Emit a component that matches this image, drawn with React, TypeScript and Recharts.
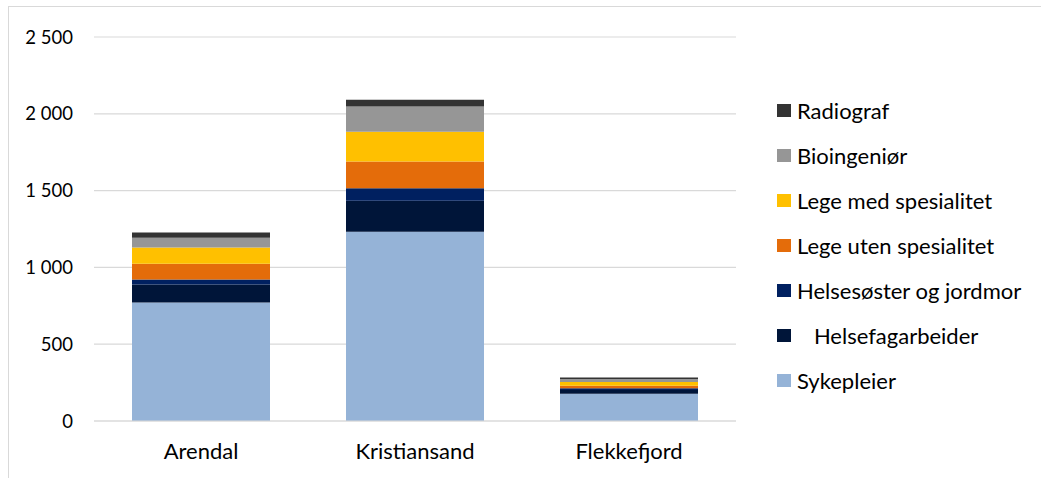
import { BarChart, Bar, XAxis, YAxis, CartesianGrid, Legend } from 'recharts';

const steder = ['Arendal', 'Kristiansand', 'Flekkefjord'];

// antall per yrkesgruppe, lest av figuren
const sykepleier = [771, 1232, 177];
const helsefagarbeider = [117, 202, 25];
const helsesoster = [33, 81, 12];
const legeUten = [102, 174, 15];
const legeMed = [107, 194, 25];
const bioingenior = [63, 165, 20];
const radiograf = [35, 44, 10];

const yTicks = [0, 500, 1000, 1500, 2000, 2500];

const series = [
  { key: 'syk', name: 'Sykepleier', values: sykepleier, color: '#95b3d7' },
  { key: 'hfa', name: '   Helsefagarbeider', values: helsefagarbeider, color: '#001539' },
  { key: 'hsj', name: 'Helsesøster og jordmor', values: helsesoster, color: '#002060' },
  { key: 'lus', name: 'Lege uten spesialitet', values: legeUten, color: '#e46c0a' },
  { key: 'lms', name: 'Lege med spesialitet', values: legeMed, color: '#ffc000' },
  { key: 'bio', name: 'Bioingeniør', values: bioingenior, color: '#969696' },
  { key: 'rad', name: 'Radiograf', values: radiograf, color: '#333333' },
];

const data = steder.map((s, i) => {
  const row: Record<string, string | number> = { sted: s };
  series.forEach((se) => {
    row[se.key] = se.values[i];
  });
  return row;
});

const font = 'Lato, "Open Sans", sans-serif';

const fmt = (v: number) => (v >= 1000 ? `${Math.floor(v / 1000)} ${String(v % 1000).padStart(3, '0')}` : String(v));

function LegendBox() {
  return (
    <div style={{ fontFamily: font, fontSize: 22, color: '#000' }}>
      {[...series].reverse().map((s) => (
        <div key={s.key} style={{ display: 'flex', alignItems: 'center', height: 45 }}>
          <span style={{ width: 14, height: 13, background: s.color, marginRight: 6, flex: 'none' }} />
          <span style={{ whiteSpace: 'pre' }}>{s.name}</span>
        </div>
      ))}
    </div>
  );
}

export default function App() {
  return (
    <div style={{ position: 'absolute', left: 0, top: 0, width: 1041, height: 478, background: '#fff' }}>
      <div
        style={{
          position: 'absolute',
          left: 8,
          top: 6,
          width: 1100,
          height: 500,
          borderLeft: '1px solid #d9d9d9',
          borderTop: '1px solid #d9d9d9',
        }}
      />
      <div style={{ position: 'absolute', left: 0, top: 0 }}>
        <BarChart
          width={1041}
          height={478}
          data={data}
          margin={{ top: 37, right: 305, bottom: 27, left: 0 }}
          barCategoryGap={38}
        >
          <CartesianGrid vertical={false} stroke="#d9d9d9" strokeWidth={1.2} />
          <XAxis
            dataKey="sted"
            height={30}
            tickLine={false}
            axisLine={{ stroke: '#d9d9d9', strokeWidth: 1.2 }}
            tickSize={0}
            tickMargin={22}
            tick={{ fill: '#000', fontFamily: font, fontSize: 22 }}
          />
          <YAxis
            width={94}
            domain={[0, 2500]}
            ticks={yTicks}
            axisLine={false}
            tickLine={false}
            tickSize={0}
            tickMargin={21}
            tickFormatter={fmt}
            tick={{ fill: '#000', fontFamily: font, fontSize: 18.5 }}
          />
          <Legend
            layout="vertical"
            align="center"
            verticalAlign="middle"
            wrapperStyle={{ left: 777, top: 88, width: 264 }}
            content={() => <LegendBox />}
          />
          {series.map((s) => (
            <Bar key={s.key} dataKey={s.key} name={s.name} stackId="a" fill={s.color} isAnimationActive={false} />
          ))}
        </BarChart>
      </div>
    </div>
  );
}
